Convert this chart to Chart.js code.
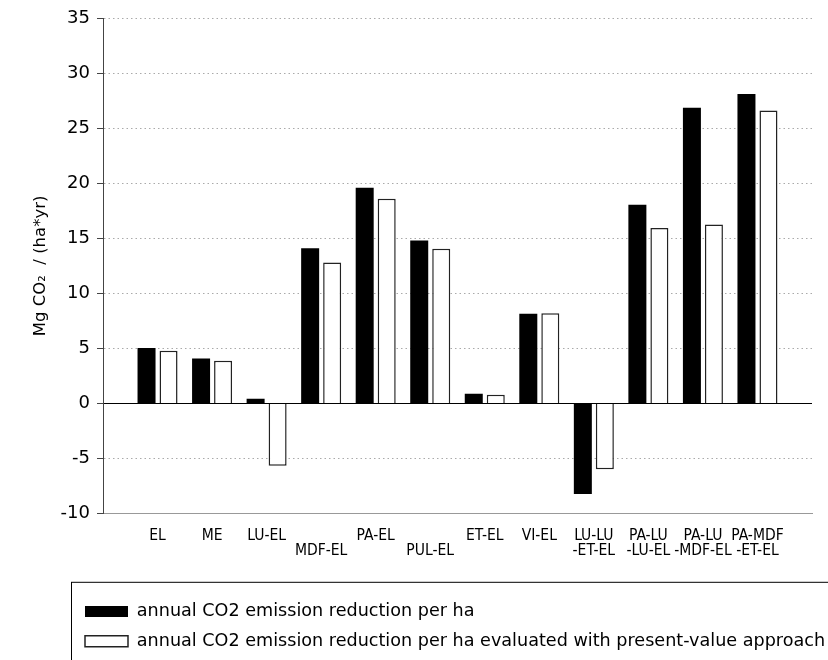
<!DOCTYPE html>
<html>
<head>
<meta charset="utf-8">
<script src="https://cdn.jsdelivr.net/npm/chart.js@4/dist/chart.umd.min.js"></script>
<style>
  body { margin: 0; background: #fff; }
</style>
</head>
<body>
<canvas id="co2Chart" width="828" height="660"></canvas>
<script>
// categories (x axis) and the two series
const categories = ['EL', 'ME', 'LU-EL', 'MDF-EL', 'PA-EL', 'PUL-EL', 'ET-EL', 'VI-EL',
  'LU-LU-ET-EL', 'PA-LU-LU-EL', 'PA-LU-MDF-EL', 'PA-MDF-ET-EL'];
const reduction = [5.05, 4.1, 0.45, 14.1, 19.6, 14.8, 0.9, 8.15, -8.2, 18.05, 26.85, 28.1];
const reductionPV = [4.8, 3.9, -5.65, 12.8, 18.6, 14.05, 0.8, 8.2, -5.95, 15.95, 16.25, 26.6];
const seriesNames = ['annual CO2 emission reduction per ha',
  'annual CO2 emission reduction per ha evaluated with present-value approach'];
const yMin = -10, yMax = 35, yStep = 5;
const yTitle = 'Mg CO\u2082  / (ha*yr)';

const FONT = "'DejaVu Sans', Verdana, sans-serif";

// long names go on two lines, a couple of short ones are dropped a line like in the original
function tickLabel(i) {
  const name = categories[i];
  if (name === undefined) return '';
  const parts = name.split('-');
  if (parts.length > 2) return [parts.slice(0, 2).join('-'), '-' + parts.slice(2).join('-')];
  if (i === 3 || i === 5) return ['', name];
  return name;
}

// frame around the legend, legend moved right and allowed to run to the edge
const legendFrame = {
  id: 'legendFrame',
  beforeDraw(chart) {
    chart.legend.left = 73;
    chart.legend.right = 1000;
    chart.legend.width = 1000 - 73;
  },
  afterDraw(chart) {
    const ctx = chart.ctx;
    ctx.save();
    ctx.strokeStyle = '#000';
    ctx.lineWidth = 1;
    ctx.strokeRect(71.5, chart.legend.top - 9 + 0.5, 900, 200);
    ctx.restore();
  }
};

let ctx = document.getElementById('co2Chart').getContext('2d');

let chart = new Chart(ctx, {
  type: 'bar',
  data: {
    datasets: [{
      label: seriesNames[0],
      data: reduction.map((v, i) => ({ x: i, y: v })),
      backgroundColor: '#000',
      borderColor: '#000',
      borderWidth: 0,
    },
    {
      label: seriesNames[1],
      data: reductionPV.map((v, i) => ({ x: i, y: v })),
      backgroundColor: '#fff',
      borderColor: '#222',
      borderWidth: 1.5,
    }]
  },
  options: {
    responsive: false,
    animation: false,
    categoryPercentage: 0.807,
    barPercentage: 0.818,
    layout: {
      padding: { top: 18, right: 16, bottom: 0, left: 0 }
    },
    plugins: {
      tooltip: { enabled: false },
      legend: {
        position: 'bottom',
        align: 'start',
        labels: {
          boxWidth: 43,
          boxHeight: 11,
          padding: 12,
          color: '#000',
          font: { family: FONT, size: 17.6 }
        }
      }
    },
    scales: {
      x: {
        type: 'linear',
        offset: false,
        min: -1,
        max: categories.length,
        grid: { display: false, drawTicks: false },
        border: { display: true, color: '#999', width: 1 },
        ticks: {
          stepSize: 1,
          autoSkip: false,
          maxRotation: 0,
          padding: 14,
          color: '#000',
          font: { family: "'DejaVu Sans Condensed', 'DejaVu Sans', sans-serif", size: 15.5, lineHeight: 1.0 },
          callback: function(value) {
            return tickLabel(value);
          }
        },
        afterFit: function(scale) {
          scale.height = 77;
        }
      },
      y: {
        min: yMin,
        max: yMax,
        grid: {
          color: (c) => (c.tick && c.tick.value === 0) ? '#000' : '#aaa',
          tickLength: 6,
          tickColor: '#444',
          tickBorderDash: [],
        },
        border: {
          display: true,
          color: '#444',
          width: 1,
          dash: (c) => (c.type === 'tick' && c.tick.value !== 0) ? [1.5, 3] : [],
        },
        ticks: {
          stepSize: yStep,
          padding: 7,
          color: '#000',
          font: { family: FONT, size: 18 }
        },
        title: {
          display: true,
          text: yTitle,
          color: '#000',
          padding: { top: 31, bottom: 0 },
          font: { family: FONT, size: 16.5 }
        },
        afterFit: function(scale) {
          scale.width = 103;
        }
      }
    }
  },
  plugins: [legendFrame]
});
</script>
</body>
</html>
